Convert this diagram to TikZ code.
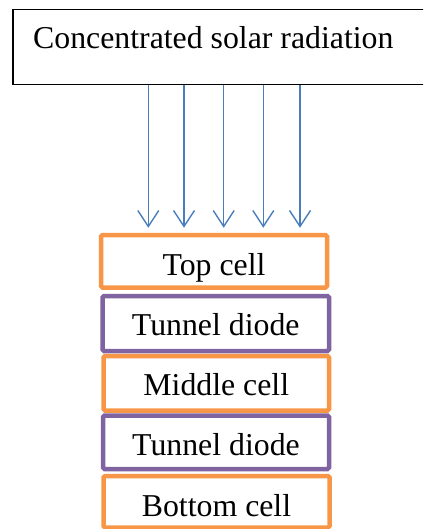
\documentclass[tikz,border=0pt]{standalone}
\usepackage{fontspec}
\setmainfont{Liberation Serif}
\usetikzlibrary{arrows.meta}
\definecolor{cellorange}{HTML}{F79646}
\definecolor{tdpurple}{HTML}{8064A2}
\definecolor{rayblue}{HTML}{4A7EBB}
\tikzset{
  srcbox/.style={draw=black, line width=1.5pt, inner sep=0pt, anchor=north west},
  cellbox/.style={line width=4.5pt, rounded corners=1.5pt, inner sep=0pt},
  orangebox/.style={cellbox, draw=cellorange},
  purplebox/.style={cellbox, draw=tdpurple},
  lbl/.style={font=\fontsize{31.8}{36}\selectfont, inner sep=0pt, anchor=base},
  ray/.style={draw=rayblue, line width=1.4pt, -{Straight Barb[length=16pt, width=21pt, line width=1.4pt]}, shorten >=5pt}
}
\begin{document}
\begin{tikzpicture}[x=1pt, y=1pt]
\useasboundingbox (0,0) rectangle (423,-529);
\clip (0,0) rectangle (423,-529);
% source box
\node[srcbox, minimum width=420pt, minimum height=75pt] (src) at (12,-9) {};
\node[lbl, anchor=base west] (srclbl) at (33,-49) {Concentrated solar radiation};
% cells
\node[orangebox, minimum width=226pt, minimum height=52.5pt] (top) at (214,-261.25) {};
\node[lbl] (toplbl) at (214,-275) {Top cell};
\node[purplebox, minimum width=226.5pt, minimum height=55pt] (tdA) at (215.75,-323.5) {};
\node[lbl] (tdAlbl) at (215.75,-335.5) {Tunnel diode};
\node[orangebox, minimum width=225.5pt, minimum height=54.5pt] (mid) at (216.25,-383.25) {};
\node[lbl] (midlbl) at (216.25,-395.5) {Middle cell};
\node[purplebox, minimum width=226pt, minimum height=53.5pt] (tdB) at (216,-442.25) {};
\node[lbl] (tdBlbl) at (216,-455) {Tunnel diode};
\node[orangebox, minimum width=226pt, minimum height=51.5pt] (bot) at (216.5,-501.75) {};
\node[lbl] (botlbl) at (216.5,-516.7) {Bottom cell};
% rays
\foreach \xx in {148.3,184,223.7,263.3,300}{
  \draw[ray] (\xx,0 |- src.south) -- (\xx,0 |- top.north);
}
\end{tikzpicture}
\end{document}
